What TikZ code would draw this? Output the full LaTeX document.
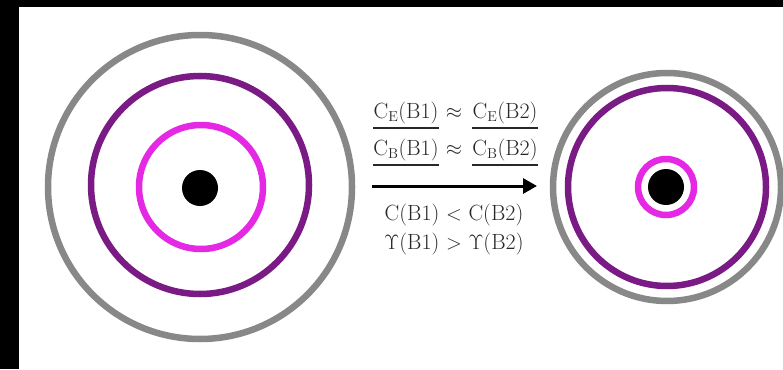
\documentclass[tikz,border=0pt]{standalone}
\usetikzlibrary{arrows.meta}
\definecolor{ringgray}{RGB}{136,136,136}
\definecolor{ringpurple}{RGB}{122,26,132}
\definecolor{ringmagenta}{RGB}{228,40,228}
\definecolor{txt}{RGB}{40,40,40}
\begin{document}
\begin{tikzpicture}[x=1pt,y=-1pt,
  ring/.style={line width=6.5pt},
  lbl/.style={font=\fontsize{22}{26}\selectfont, inner sep=0pt, text=txt},
  uline/.style={line width=1.4pt, txt}]
\useasboundingbox (0,0) rectangle (783,369);
\fill[white] (0,0) rectangle (783,369);
% black frame
\fill[black] (0,0) rectangle (19,369);
\fill[black] (0,0) rectangle (783,7);
% left rings
\draw[ring, ringgray] (200,187) circle[radius=152];
\draw[ring, ringpurple] (200,185) circle[radius=109];
\draw[ring, ringmagenta] (201,187) circle[radius=62];
\fill[black] (200,188) circle[radius=18];
% right rings
\draw[ring, ringgray] (667,187) circle[radius=114];
\draw[ring, ringpurple] (667,187) circle[radius=99];
\draw[ring, ringmagenta] (666,187) circle[radius=28];
\fill[black] (666,187) circle[radius=18];
% labels
\node[lbl] (l1a) at (406,113) {C$_{\mathrm E}$(B1)};
\node[lbl] (l1m) at (454,113) {$\approx$};
\node[lbl] (l1b) at (505,113) {C$_{\mathrm E}$(B2)};
\node[lbl] (l2a) at (406,150) {C$_{\mathrm B}$(B1)};
\node[lbl] (l2m) at (454,150) {$\approx$};
\node[lbl] (l2b) at (505,150) {C$_{\mathrm B}$(B2)};
\draw[uline] ([yshift=-4pt]l1a.south west) -- ([yshift=-4pt]l1a.south east);
\draw[uline] ([yshift=-4pt]l1b.south west) -- ([yshift=-4pt]l1b.south east);
\draw[uline] ([yshift=-4pt]l2a.south west) -- ([yshift=-4pt]l2a.south east);
\draw[uline] ([yshift=-4pt]l2b.south west) -- ([yshift=-4pt]l2b.south east);
\coordinate (as) at (372,186);
\coordinate (ae) at (537,186);
\draw[line width=3pt, -{Triangle[length=14pt,width=15pt]}] (as) -- (ae);
\node[lbl] (l3) at (454,215) {C(B1) $<$ C(B2)};
\node[lbl] (l4) at (454,244) {$\Upsilon$(B1) $>$ $\Upsilon$(B2)};
\end{tikzpicture}
\end{document}
